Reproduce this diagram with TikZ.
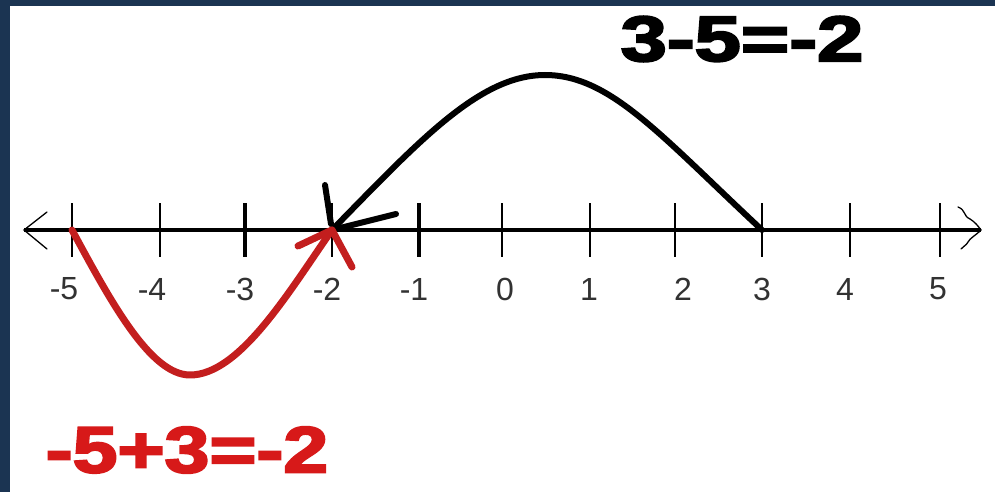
\documentclass[tikz,border=0pt]{standalone}
\usepackage{fontspec}
\usepackage{graphicx}
\setmainfont{Liberation Sans}
\newfontfamily\heavyfont{Liberation Sans Bold}[FakeBold=3]
\definecolor{bgblue}{RGB}{27,52,82}
\definecolor{penred}{RGB}{195,30,30}
\definecolor{txtred}{RGB}{215,25,25}
\definecolor{labgray}{RGB}{50,50,50}
\tikzset{
  axisline/.style={line width=3.2pt, black},
  tickmark/.style={line width=2pt, black},
  boldtick/.style={line width=3.2pt, black},
  tipline/.style={line width=1.3pt, black, line cap=round},
  tlabel/.style={font=\fontsize{32}{32}\selectfont, text=labgray, inner sep=0pt},
  blackpen/.style={line width=6pt, black, line cap=round, line join=round},
  redpen/.style={line width=7pt, penred, line cap=round, line join=round},
  eqtext/.style={inner sep=0pt}
}
\begin{document}
\begin{tikzpicture}[x=1pt, y=-1pt]
\useasboundingbox (0,0) rectangle (995,492);
\fill[bgblue] (0,0) rectangle (995,492);
\fill[white] (10,6) rectangle (995,492);

% tick positions
\foreach \n/\x in {-5/72,-4/159.5,-3/245,-2/332,-1/419,0/502,1/589.5,2/675,3/762,4/850,5/940}{
  \coordinate (t\n) at (\x,230);
  \coordinate (t\n top) at (\x,203);
  \coordinate (t\n bot) at (\x,257);
}
\coordinate (lend) at (24,230);
\coordinate (rend) at (981,230);

% axis
\draw[axisline] (lend) -- (rend);
\foreach \n in {-5,-4,-2,0,1,2,3,4,5}{
  \draw[tickmark] (t\n top) -- (t\n bot);
}
\foreach \n in {-3,-1}{
  \draw[boldtick] (t\n top) -- (t\n bot);
}
% hand-drawn arrow tips
\coordinate (la1) at (47,212);
\coordinate (la2) at (47,249);
\draw[tipline] (la1) -- (lend) -- (la2);
\coordinate (ra1) at (958,207);
\coordinate (ra2) at (961,249);
\draw[tipline] (ra1) .. controls (966,210) and (963,216) .. (970,219) .. controls (975,222) and (978,226) .. (rend)
  .. controls (975,236) and (970,238) .. (968,242) .. controls (966,246) and (963,246) .. (ra2);

% labels
\foreach \n/\x in {-5/64,-4/152,-3/240,-2/327,-1/414}{
  \node[tlabel] (l\n) at (\x,289) {-\the\numexpr-\n\relax};
}
\foreach \n/\x in {0/505,1/589,2/683,3/762,4/845,5/938}{
  \node[tlabel] (l\n) at (\x,289) {\n};
}

% black jump 3 -> -2
\coordinate (apex) at (545,75);
\draw[blackpen] (t3) .. controls (660,135) and (610,75) .. (apex)
  .. controls (480,75) and (420,140) .. (t-2);
\coordinate (bk1) at (325,185);
\coordinate (bk2) at (396,214);
\draw[blackpen] (bk1) -- (331,224);
\draw[blackpen] (t-2) -- (bk2);

% red jump -5 -> -2
\coordinate (bottom) at (190,375);
\draw[redpen] (t-5) .. controls (110,300) and (150,375) .. (bottom)
  .. controls (240,375) and (290,290) .. (t-2);
\coordinate (rd1) at (298,246);
\coordinate (rd2) at (352,267);
\draw[redpen] (rd1) -- (t-2) -- (rd2);

% equations
\node[eqtext] (eqtop) at (742,39) {\scalebox{1.32}[1.02]{\heavyfont\fontsize{63}{63}\selectfont 3-5=-2}};
\node[eqtext, text=txtred] (eqbot) at (187,450) {\scalebox{1.28}[1.04]{\heavyfont\fontsize{63}{63}\selectfont -5+3=-2}};
\end{tikzpicture}
\end{document}
